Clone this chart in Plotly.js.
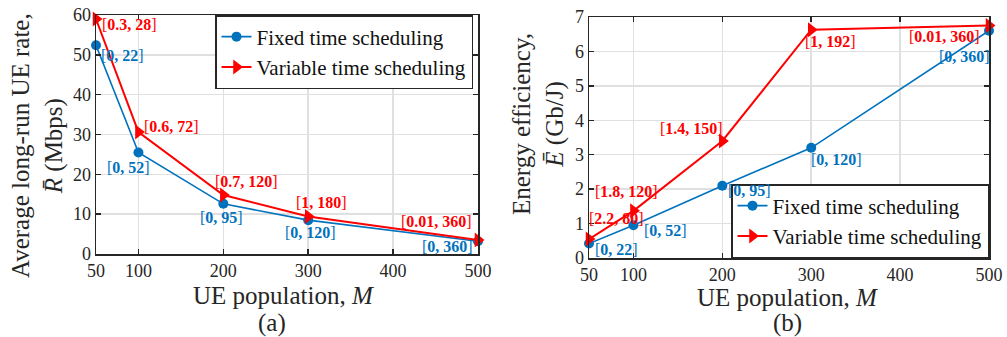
<!DOCTYPE html>
<html>
<head>
<meta charset="utf-8">
<script src="https://cdn.plot.ly/plotly-3.0.1.min.js"></script>
<style>html,body{margin:0;padding:0;background:#fff;}#chart{width:1007px;height:337px;}</style>
</head>
<body>
<div id="chart"></div>
<script>
// ---- data ----
const M = [50, 100, 200, 300, 500];
const xTicks = [50, 100, 200, 300, 400, 500];
const rateFixed = [52.4, 25.5, 12.6, 8.5, 3.2];
const rateVar = [59.0, 30.6, 14.8, 9.4, 3.5];
const eeFixed = [0.42, 0.95, 2.1, 3.2, 6.6];
const eeVar = [0.55, 1.37, 3.4, 6.63, 6.75];
const rateFixedLabels = ['0, 22', '0, 52', '0, 95', '0, 120', '0, 360'];
const rateVarLabels = ['0.3, 28', '0.6, 72', '0.7, 120', '1, 180', '0.01, 360'];
const eeFixedLabels = ['0, 22', '0, 52', '0, 95', '0, 120', '0, 360'];
const eeVarLabels = ['2.2, 80', '1.8, 120', '1.4, 150', '1, 192', '0.01, 360'];
const seriesNames = ['Fixed time scheduling', 'Variable time scheduling'];

// ---- styles ----
const BLUE = '#0072BD', RED = '#FF0000', INK = '#262626';
const FONT = 'Liberation Serif, Times New Roman, serif';

// label offsets (pixels) relative to each point
const offRateFixed = [[26, -10], [-10, -15], [-2, -14], [2, -12], [-31, -5]];
const offRateVar = [[33, -6], [33, 6], [23, 14], [13, 14], [-42, 19]];
const offEeFixed = [[27, -6], [32, -5], [27, -5], [25, -12], [-25, -26]];
const offEeVar = [[27, 21], [-7, 19], [-31, 12], [19, -12], [-45, -11]];

function mkLabels(xs, ys, labels, offs, color, xr, yr) {
  return xs.map((x, i) => ({
    x: x, y: ys[i], xref: xr, yref: yr, showarrow: false,
    text: '[<b>' + labels[i] + '</b>]',
    xshift: offs[i][0], yshift: offs[i][1],
    xanchor: 'center', yanchor: 'middle',
    font: {family: FONT, size: 16, color: color}
  }));
}

function trace(x, y, idx, xa, ya, leg) {
  const fixed = idx === 0;
  return {
    x: x, y: y, xaxis: xa, yaxis: ya, type: 'scatter', mode: 'lines+markers',
    name: seriesNames[idx], legend: leg, cliponaxis: false,
    line: {color: fixed ? BLUE : RED, width: fixed ? 1.6 : 2},
    marker: fixed ? {symbol: 'circle', size: 10, color: BLUE}
                  : {symbol: 'triangle-right', size: 13, color: RED}
  };
}

const data = [
  trace(M, rateFixed, 0, 'x', 'y', 'legend'),
  trace(M, rateVar, 1, 'x', 'y', 'legend'),
  trace(M, eeFixed, 0, 'x2', 'y2', 'legend2'),
  trace(M, eeVar, 1, 'x2', 'y2', 'legend2')
];

const W = 1007, H = 337;
const axBase = {
  showline: true, linecolor: INK, linewidth: 1.5, mirror: 'ticks',
  ticks: 'inside', ticklen: 5, tickwidth: 1.5, tickcolor: INK,
  showgrid: true, gridcolor: '#e0e0e0', gridwidth: 1.5, zeroline: false,
  tickfont: {family: FONT, size: 18, color: INK}
};

function title(text, cx, cy, angle) {
  return {xref: 'paper', yref: 'paper', x: cx / W, y: 1 - cy / H, showarrow: false,
          xanchor: 'center', yanchor: 'middle', textangle: angle || 0,
          text: text, font: {family: FONT, size: 25, color: INK}};
}

const legBase = {xanchor: 'right', bgcolor: '#fff', bordercolor: INK, borderwidth: 1.5,
                 font: {family: FONT, size: 21, color: '#111'}, tracegroupgap: 0};

const layout = {
  width: W, height: H,
  margin: {l: 0, r: 0, t: 0, b: 0},
  paper_bgcolor: '#fff', plot_bgcolor: '#fff',
  font: {family: FONT, color: INK},
  xaxis: Object.assign({}, axBase, {domain: [96 / W, 478 / W], range: [50, 500], tickvals: xTicks, anchor: 'y'}),
  yaxis: Object.assign({}, axBase, {domain: [1 - 254 / H, 1 - 15 / H], range: [0, 60], dtick: 10, anchor: 'x'}),
  xaxis2: Object.assign({}, axBase, {domain: [589 / W, 989 / W], range: [50, 500], tickvals: xTicks, anchor: 'y2'}),
  yaxis2: Object.assign({}, axBase, {domain: [1 - 258 / H, 1 - 17 / H], range: [0, 7], dtick: 1, anchor: 'x2'}),
  legend: Object.assign({}, legBase, {x: 473 / W, y: 1 - 15 / H, yanchor: 'top'}),
  legend2: Object.assign({}, legBase, {x: 989 / W, y: 1 - 258 / H, yanchor: 'bottom'}),
  annotations: [].concat(
    mkLabels(M, rateFixed, rateFixedLabels, offRateFixed, BLUE, 'x', 'y'),
    mkLabels(M, rateVar, rateVarLabels, offRateVar, RED, 'x', 'y'),
    mkLabels(M, eeFixed, eeFixedLabels, offEeFixed, BLUE, 'x2', 'y2'),
    mkLabels(M, eeVar, eeVarLabels, offEeVar, RED, 'x2', 'y2'),
    [
      title('UE population, <i>M</i>', 283, 295),
      title('UE population, <i>M</i>', 787, 297),
      title('(a)', 272, 323),
      title('(b)', 787, 323),
      title('Average long-run UE rate,<br><i>R̄</i> (Mbps)', 37, 146, -90),
      title('Energy efficiency,<br><i>Ē</i> (Gb/J)', 538, 124, -90)
    ]
  )
};

Plotly.newPlot('chart', data, layout, {displayModeBar: false, staticPlot: true});
</script>
</body>
</html>
